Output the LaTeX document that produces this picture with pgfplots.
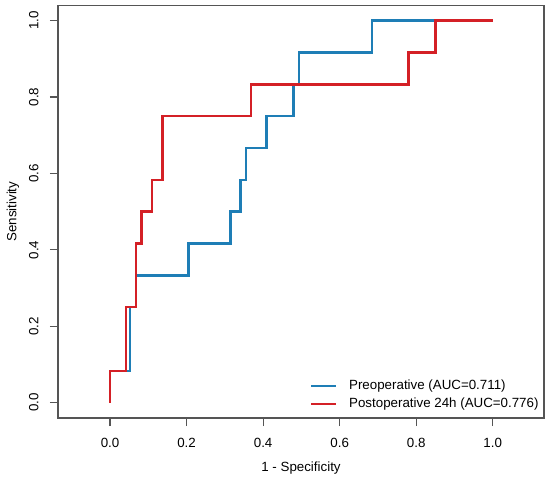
\documentclass[border=0pt]{standalone}
\usepackage{pgfplots}
\pgfplotsset{compat=1.18}
\usepackage{fontspec}
\setmainfont{Liberation Sans}
\definecolor{pblue}{RGB}{30,126,182}
\definecolor{pred}{RGB}{212,32,38}
\definecolor{boxgray}{RGB}{85,85,85}
\begin{document}
\begin{tikzpicture}
\path[use as bounding box] (0,0) rectangle (412.5pt,359.25pt);
\begin{axis}[
  at={(43.5pt,45.75pt)}, anchor=south west,
  scale only axis, width=364.5pt, height=309.5pt,
  xmin=-0.136, xmax=1.134, ymin=-0.04, ymax=1.04,
  xtick={0,0.2,0.4,0.6,0.8,1.0}, ytick={0,0.2,0.4,0.6,0.8,1.0},
  xticklabels={0.0,0.2,0.4,0.6,0.8,1.0},
  yticklabels={0.0,0.2,0.4,0.6,0.8,1.0},
  xtick pos=left, ytick pos=left,
  tick align=outside, major tick length=6pt,
  axis line style={boxgray, line width=0.9pt},
  every tick/.style={boxgray, line width=0.9pt},
  xticklabel style={yshift=-5.3pt},
  yticklabel style={xshift=-5pt, rotate=90, anchor=south},
  xlabel={1 - Specificity}, ylabel={Sensitivity},
  xlabel style={at={(axis description cs:0.5,-0.1205)}, anchor=center},
  ylabel style={at={(axis description cs:-0.0926,0.5)}, anchor=center},
  legend style={draw=none, fill=none, at={(1.003,0.005)}, anchor=south east,
    nodes={text height=7.2pt, text depth=2pt, inner ysep=2.25pt},
    /tikz/every odd column/.append style={column sep=7pt}},
  legend cell align=left,
  legend image code/.code={\draw[#1, line width=1.6pt] (0pt,0pt) -- (18.75pt,0pt);},
]
\addplot[pblue, line width=1.8pt] coordinates {
(0,0)(0,0.0833)(0.052,0.0833)(0.052,0.25)(0.068,0.25)(0.068,0.3333)(0.205,0.3333)(0.205,0.4167)(0.315,0.4167)(0.315,0.5)(0.341,0.5)(0.341,0.5833)(0.355,0.5833)(0.355,0.6667)(0.409,0.6667)(0.409,0.75)(0.479,0.75)(0.479,0.8333)(0.493,0.8333)(0.493,0.9167)(0.685,0.9167)(0.685,1)(1,1)
};
\addlegendentry{Preoperative (AUC=0.711)}
\addplot[pred, line width=1.8pt] coordinates {
(0,0)(0,0.0833)(0.041,0.0833)(0.041,0.25)(0.068,0.25)(0.068,0.4167)(0.082,0.4167)(0.082,0.5)(0.110,0.5)(0.110,0.5833)(0.137,0.5833)(0.137,0.75)(0.368,0.75)(0.368,0.8333)(0.780,0.8333)(0.780,0.9167)(0.850,0.9167)(0.850,1)(1,1)
};
\addlegendentry{Postoperative 24h (AUC=0.776)}
\end{axis}
\end{tikzpicture}
\end{document}
